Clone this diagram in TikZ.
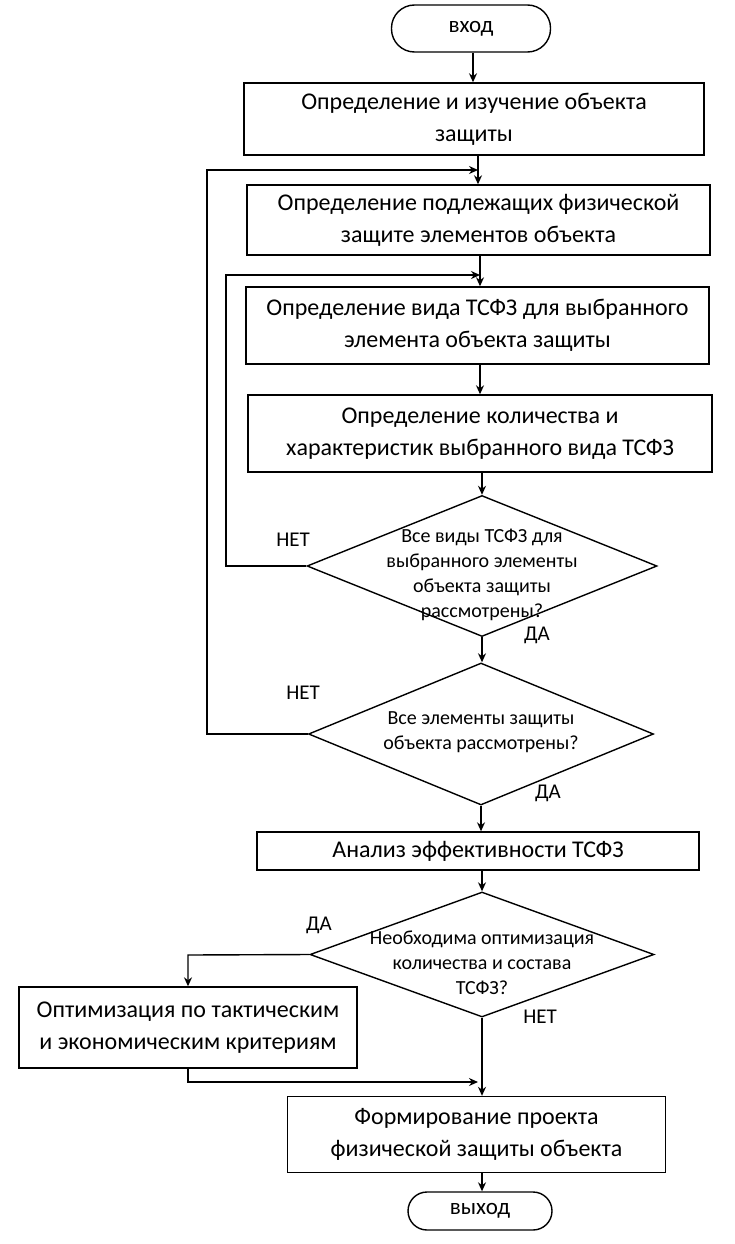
\documentclass[tikz,border=0pt]{standalone}
\usepackage{fontspec}
\setmainfont{Carlito}
\usetikzlibrary{shapes.geometric,arrows.meta}
\begin{document}
\begin{tikzpicture}[x=1pt,y=-1pt,
  lw/.style={line width=1.4pt},
  box/.style={draw,lw,rectangle,inner sep=0pt,align=center,font=\fontsize{24}{32}\selectfont},
  term/.style={draw,lw,rectangle,inner sep=0pt,font=\fontsize{23}{26}\selectfont},
  dia/.style={draw,lw,diamond,inner sep=0pt},
  dtext/.style={align=center,inner sep=0pt,font=\fontsize{20}{25}\selectfont},
  lab/.style={inner sep=0pt,font=\fontsize{21}{24}\selectfont},
  arr/.style={lw,-{Stealth[length=9pt,width=8pt]}},
  ln/.style={lw}
]
\useasboundingbox (0,0) rectangle (735,1244);

\node[term,minimum width=159pt,minimum height=47pt,rounded corners=23pt] (start) at (471,28.5) {вход};
\node[box,minimum width=460pt,minimum height=72pt] (b1) at (474,119) {Определение и изучение объекта\\защиты};
\node[box,minimum width=463pt,minimum height=70pt] (b2) at (478.5,220) {Определение подлежащих физической\\защите элементов объекта};
\node[box,minimum width=463pt,minimum height=77pt] (b3) at (477.5,325.5) {Определение вида ТСФЗ для выбранного\\элемента объекта защиты};
\node[box,minimum width=464pt,minimum height=77pt] (b4) at (480,433.5) {Определение количества и\\характеристик выбранного вида ТСФЗ};
\node[dia,minimum width=350pt,minimum height=141pt] (d1) at (482,566) {};
\node[dtext] (d1t) at (482,575) {Все виды ТСФЗ для\\выбранного элементы\\объекта защиты\\рассмотрены?};
\node[dia,minimum width=345pt,minimum height=142pt] (d2) at (481,734) {};
\node[dtext] (d2t) at (481,732) {Все элементы защиты\\объекта рассмотрены?};
\node[box,minimum width=442pt,minimum height=38pt] (b5) at (478,851) {Анализ эффективности ТСФЗ};
\node[dia,minimum width=344pt,minimum height=125pt] (d3) at (482,954.5) {};
\node[dtext] (d3t) at (482,963) {Необходима оптимизация\\количества и состава\\ТСФЗ?};
\node[box,minimum width=338pt,minimum height=81pt] (b6) at (188,1027.5) {Оптимизация по тактическим\\и экономическим критериям};
\node[box,minimum width=378pt,minimum height=76pt] (b7) at (476.5,1134.5) {Формирование проекта\\физической защиты объекта};
\node[term,minimum width=144pt,minimum height=38pt,rounded corners=19pt] (stop) at (480,1211) {выход};

\node[lab] (l1) at (293,540) {НЕТ};
\node[lab] (l2) at (537,635) {ДА};
\node[lab] (l3) at (303,693) {НЕТ};
\node[lab] (l4) at (548,793) {ДА};
\node[lab] (l5) at (319,925) {ДА};
\node[lab] (l6) at (540,1017) {НЕТ};

\coordinate (j1) at (478,170);
\coordinate (j2) at (480,275);
\coordinate (j3) at (481,1082);
\coordinate (c1) at (226,566);
\coordinate (c2) at (207,734);
\coordinate (c3) at (188,955);
\coordinate (c4) at (188,1082);

\draw[arr] (start.south -| 473,0) -- (b1.north -| 473,0);
\draw[arr] (b1.south -| j1) -- (b2.north -| j1);
\draw[arr] (b2.south -| j2) -- (b3.north -| j2);
\draw[arr] (b3.south -| j2) -- (b4.north -| j2);
\draw[arr] (b4.south -| d1) -- (d1.north);
\draw[arr] (d1.south) -- (d2.north -| d1);
\draw[arr] (d2.south) -- (b5.north -| d2);
\draw[arr] (b5.south -| d3) -- (d3.north);
\draw[arr] (d3.south) -- (b7.north -| d3);
\draw[arr] (b7.south -| d3) -- (stop.north -| d3);

\draw[arr] (d1.west) -- (c1) |- (j2);
\draw[arr] (d2.west) -- (c2) |- (j1);
\draw[arr] (d3.west) -- (c3) -- (b6.north);
\draw[arr] (b6.south) -- (c4) -- ([xshift=-3pt]j3);
\end{tikzpicture}
\end{document}
